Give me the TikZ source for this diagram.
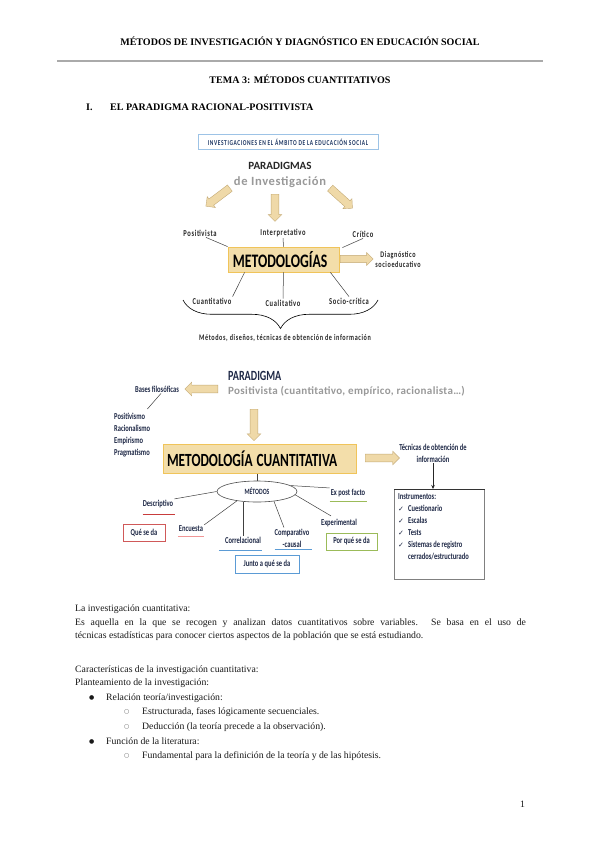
\documentclass[tikz,border=0pt]{standalone}
\usepackage{fontspec}
\setmainfont{Liberation Serif}
\newfontfamily\diagfont{Carlito}
\newfontfamily\widefont[LetterSpace=5]{Carlito}
\newfontfamily\condfont[FakeStretch=0.72]{Carlito}
\newfontfamily\spacedfont[FakeStretch=0.72, LetterSpace=7]{Carlito}
\newfontfamily\symfont{DejaVu Sans}
\usetikzlibrary{arrows.meta, positioning, shapes.geometric, shapes.arrows,
                decorations.pathreplacing, calc}
\definecolor{tanfill}{RGB}{239,217,168}
\definecolor{tanline}{RGB}{196,170,118}
\definecolor{boxfill}{RGB}{243,222,170}
\definecolor{boxline}{RGB}{240,196,90}
\definecolor{navytext}{RGB}{30,40,70}
\definecolor{titleblue}{RGB}{31,56,100}
\definecolor{paleblue}{RGB}{157,195,230}
\definecolor{redline}{RGB}{200,60,60}
\definecolor{pinkline}{RGB}{240,150,150}
\definecolor{blueline}{RGB}{91,155,213}
\definecolor{greenline}{RGB}{155,187,89}
\definecolor{rulegray}{RGB}{170,170,170}
\definecolor{bodytext}{RGB}{25,25,25}
\newcommand{\chk}{\makebox[0.35cm][l]{\symfont\fontsize{7}{9}\selectfont ✓}}

\begin{document}
\begin{tikzpicture}[x=0.035cm, y=-0.035cm,
  bodyline/.style={anchor=base west, inner sep=0pt,
                   font=\fontsize{9.7}{12}\selectfont, text=bodytext},
  headline/.style={anchor=base, inner sep=0pt,
                   font=\fontsize{10}{12}\selectfont\bfseries},
  tanarrow/.style={single arrow, draw=tanline, fill=tanfill, line width=0.4pt,
                   inner xsep=0pt, inner ysep=0.13cm,
                   single arrow head extend=0.1cm, anchor=tail},
  lbl/.style={inner sep=1pt, text=black!85,
              font=\spacedfont\bfseries\fontsize{9}{11}\selectfont},
  navylbl/.style={inner sep=1pt, text=navytext,
                  font=\condfont\bfseries\fontsize{9}{11}\selectfont},
  link/.style={draw=black!75, line width=0.5pt},
  tagbox/.style={draw, line width=0.8pt, fill=white, inner sep=0pt,
                 font=\condfont\bfseries\fontsize{9}{11}\selectfont, text=navytext},
  under/.style={line width=1pt},
]
\useasboundingbox (0,0) rectangle (600,848);
\fill[white] (0,0) rectangle (600,848);

% =================================================================
% HEADER
% =================================================================
\node[headline] (header) at (300,46)
  {MÉTODOS DE INVESTIGACIÓN Y DIAGNÓSTICO EN EDUCACIÓN SOCIAL};
\coordinate (ruleL) at (57,61);
\coordinate (ruleR) at (543,61);
\draw[rulegray, line width=1.2pt] (ruleL) -- (ruleR);
\node[headline] (tema) at (300,84) {TEMA 3: MÉTODOS CUANTITATIVOS};
\node[headline, anchor=base west] (secnum) at (86,111) {I.};
\node[headline, anchor=base west] (sectitle) at (110,111)
  {EL PARADIGMA RACIONAL-POSITIVISTA};

% =================================================================
% UPPER DIAGRAM: paradigmas and metodologias
% =================================================================
\node[draw=paleblue, line width=0.6pt, minimum width=6.3cm, minimum height=0.52cm,
      inner sep=0pt, text=titleblue,
      font=\condfont\bfseries\fontsize{7.5}{9}\selectfont\addfontfeatures{LetterSpace=8}]
  (ambito) at (288,142) {INVESTIGACIONES EN EL ÁMBITO DE LA EDUCACIÓN SOCIAL};

\node[inner sep=0pt, text=black!85,
      font=\diagfont\bfseries\fontsize{11}{13}\selectfont] (paradigmas) at (280,166) {PARADIGMAS};
\node[inner sep=0pt, text=black!40,
      font=\widefont\bfseries\fontsize{12.5}{14}\selectfont] (deinv) at (280,182) {de Investigación};

\node[tanarrow, minimum height=1.05cm, rotate=217] (arrpos) at (230,188) {};
\node[tanarrow, minimum height=0.95cm, rotate=-90] (arrint) at (275,194) {};
\node[tanarrow, minimum height=1.05cm, rotate=-42] (arrcrit) at (330,188) {};

\node[lbl] (positiv) at (200,233) {Positivista};
\node[lbl] (interp) at (283,233) {Interpretativo};
\node[lbl] (critico) at (363,234) {Crítico};

\node[draw=boxline, fill=boxfill, line width=0.8pt, minimum width=3.885cm,
      minimum height=0.875cm, inner xsep=0.17cm, inner ysep=0pt,
      text width=3.545cm, align=left,
      font=\condfont\bfseries\fontsize{19}{22}\selectfont] (metod) at (283.5,259.5)
  {METODOLOGÍAS};

\draw[link] ($(positiv.south)+(6,0)$) -- (metod.north west);
\draw[link] (interp.south) -- (metod.north);
\draw[link] (critico.south) -- ($(metod.north east)+(3,1)$);

\node[tanarrow, minimum height=1.15cm, inner ysep=0.12cm] (arrdiag) at (340,259) {};
\node[lbl, align=center, font=\spacedfont\bfseries\fontsize{8.5}{10}\selectfont] (diagn)
  at (398,260) {Diagnóstico\\socioeducativo};

\node[lbl] (cuanti) at (212,301) {Cuantitativo};
\node[lbl] (cualit) at (283,303) {Cualitativo};
\node[lbl] (sociocrit) at (349,301) {Socio-crítica};

\draw[link] ($(metod.south west)+(17,0)$) -- (cuanti.north east);
\draw[link] (metod.south) -- (cualit.north);
\draw[link] ($(metod.south east)+(-9,0)$) -- (sociocrit.north);

\coordinate (braceL) at (183,300);
\coordinate (braceR) at (378,300);
\draw[decorate, decoration={brace, mirror, amplitude=1.0cm}, line width=0.6pt]
  (braceL) -- (braceR);
\node[lbl, font=\spacedfont\bfseries\fontsize{8.5}{10}\selectfont] (metinfo) at (285,338)
  {Métodos, diseños, técnicas de obtención de información};

% =================================================================
% LOWER DIAGRAM: metodologia cuantitativa
% =================================================================
\node[anchor=west, inner sep=0pt, text=navytext,
      font=\condfont\bfseries\fontsize{14}{16}\selectfont] (paradigma) at (228,376) {PARADIGMA};
\node[anchor=west, inner sep=0pt, text=black!40,
      font=\diagfont\bfseries\fontsize{11}{12}\selectfont\addfontfeatures{LetterSpace=3}]
  (positivcuant) at (228,391) {Positivista (cuantitativo, empírico, racionalista…)};

\node[tanarrow, minimum height=1.15cm, rotate=180] (arrbases) at (218,389) {};
\node[navylbl] (bases) at (157,389) {Bases filosóficas};
\node[navylbl, anchor=north west, align=left,
      font=\condfont\bfseries\fontsize{9}{12}\selectfont] (filosof) at (113,412)
  {Positivismo\\Racionalismo\\Empirismo\\Pragmatismo};
\draw[link] ($(bases.south)+(4,0)$) -- ($(filosof.north east)+(-4,-3)$);

\node[tanarrow, minimum height=1.1cm, rotate=-90] (arrmet) at (254,409) {};
\node[draw=boxline, fill=boxfill, line width=1pt, minimum width=6.79cm,
      minimum height=1.015cm, inner xsep=0.14cm, inner ysep=0pt,
      text width=6.51cm, align=left,
      font=\condfont\bfseries\fontsize{18.5}{22}\selectfont] (metodcuant) at (260,458.5)
  {METODOLOGÍA\hspace{0.14cm}CUANTITATIVA};

\node[tanarrow, minimum height=1.2cm] (arrtec) at (365,458) {};
\node[navylbl, align=center, font=\condfont\bfseries\fontsize{9}{12}\selectfont] (tecnicas)
  at (433,453) {Técnicas de obtención de\\información};

\node[draw=black!50, line width=0.6pt, minimum width=3.15cm, minimum height=3.15cm,
      anchor=north west, inner sep=0pt] (instr) at (394,489) {};
\draw[black!80, line width=1pt] (instr.north west) -- (instr.north east);
\draw[-{Stealth[length=4pt, width=3.5pt]}, black!85, line width=0.6pt]
  (tecnicas.south) -- (tecnicas.south |- instr.north);
\node[navylbl, anchor=north west, align=left,
      font=\condfont\bfseries\fontsize{9}{12}\selectfont] (instrtxt) at (397,492)
  {Instrumentos:\\
   \chk Cuestionario\\
   \chk Escalas\\
   \chk Tests\\
   \chk Sistemas de registro\\
   \hspace*{0.35cm}cerrados/estructurado};

% metodos ellipse and its branches
\node[ellipse, draw=black!70, line width=0.6pt, minimum width=2.8cm,
      minimum height=0.735cm, inner sep=0pt, text=navytext,
      font=\condfont\bfseries\fontsize{8}{10}\selectfont] (metodos) at (257,491.5) {MÉTODOS};
\draw[link] (metodos.north) -- (metodos.north |- metodcuant.south);

\node[navylbl] (descrip) at (158,504) {Descriptivo};
\node[navylbl] (encuesta) at (191,529) {Encuesta};
\node[navylbl] (correl) at (243,540) {Correlacional};
\node[navylbl, align=center, font=\condfont\bfseries\fontsize{9}{12}\selectfont] (compar)
  at (292,538) {Comparativo\\-causal};
\node[navylbl] (expost) at (348,493) {Ex post facto};
\node[navylbl] (experim) at (339,523) {Experimental};

\draw[link] (metodos.west) -- (descrip.north east);
\draw[link] (metodos.205) -- (encuesta.north east);
\draw[link] (metodos.217) -- (metodos.217 |- correl.north);
\draw[link] (metodos.330) -- ($(compar.north)+(-8,0)$);
\draw[link] (metodos.10) -- (expost.north west);
\draw[link] (metodos.355) -- ($(experim.north)+(-8,-2)$);

\draw[under, redline] ($(descrip.south west)+(1,5)$) -- ($(descrip.south east)+(1,5)$);
\draw[under, pinkline] ($(encuesta.south west)+(0,3)$) -- ($(encuesta.south east)+(0,3)$);
\draw[under, blueline] ($(correl.south west)+(-5,6)$) -- ($(correl.south east)+(0,6)$);
\draw[under, blueline] ($(compar.south west)+(1,1)$) -- ($(compar.south east)+(1,1)$);
\draw[under, greenline] ($(expost.south west)+(0,3)$) -- ($(expost.south east)+(1,3)$);

\node[tagbox, draw=redline!85, minimum width=1.47cm, minimum height=0.6cm] (quese)
  at (144,532.5) {Qué se da};
\node[tagbox, draw=blueline, minimum width=2.24cm, minimum height=0.63cm] (junto)
  at (267,564) {Junto a qué se da};
\node[tagbox, draw=greenline, minimum width=1.785cm, minimum height=0.6cm] (porque)
  at (351.5,541.5) {Por qué se da};

% =================================================================
% BODY TEXT
% =================================================================
\node[bodyline] (intro) at (75,611) {La investigación cuantitativa:};
\node[bodyline] (defA) at (75,625)
  {\makebox[15.78cm][s]{Es aquella en la que se recogen y analizan datos cuantitativos sobre variables. Se basa en el uso de}};
\node[bodyline] (defB) at (75,638)
  {técnicas estadísticas para conocer ciertos aspectos de la población que se está estudiando.};

\node[bodyline] (carac) at (75,672) {Características de la investigación cuantitativa:};
\node[bodyline] (plant) at (75,685) {Planteamiento de la investigación:};

\node[bodyline, font=\symfont\fontsize{6}{8}\selectfont] (dotA) at (89,699) {●};
\node[bodyline] (relA) at (106,700) {Relación teoría/investigación:};
\node[bodyline, font=\symfont\fontsize{6}{8}\selectfont, text=black!60] (ringA) at (124,713) {○};
\node[bodyline] (relB) at (142,714) {Estructurada, fases lógicamente secuenciales.};
\node[bodyline, font=\symfont\fontsize{6}{8}\selectfont, text=black!60] (ringB) at (124,728) {○};
\node[bodyline] (relC) at (142,729) {Deducción (la teoría precede a la observación).};
\node[bodyline, font=\symfont\fontsize{6}{8}\selectfont] (dotB) at (89,743) {●};
\node[bodyline] (funA) at (106,744) {Función de la literatura:};
\node[bodyline, font=\symfont\fontsize{6}{8}\selectfont, text=black!60] (ringC) at (124,757) {○};
\node[bodyline] (funB) at (142,758) {Fundamental para la definición de la teoría y de las hipótesis.};

\node[bodyline] (pagenum) at (520,807) {1};

\end{tikzpicture}
\end{document}
